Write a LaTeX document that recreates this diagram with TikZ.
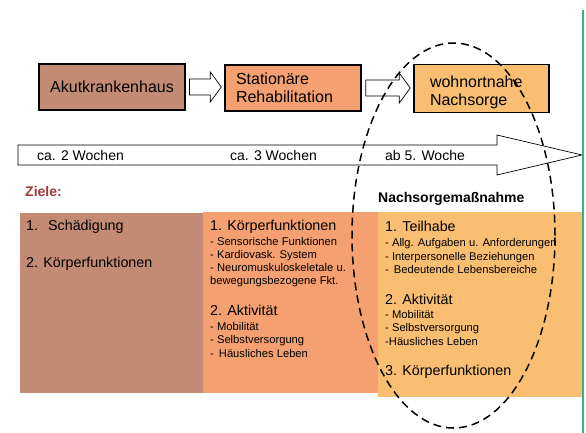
\documentclass[tikz,border=0pt]{standalone}
\usepackage{fontspec}
\setmainfont{Liberation Sans}
\usetikzlibrary{calc}
\definecolor{brownish}{HTML}{C48B74}
\definecolor{salmon}{HTML}{F5A070}
\definecolor{apricot}{HTML}{F9BE71}
\definecolor{zielered}{HTML}{A03A3A}
\definecolor{tealline}{HTML}{33B38A}

% block arrow between two stage boxes: #1 from, #2 to
\newcommand\stagearrow[2]{%
  \draw[blockarrow] let \p1=($(#1.east)+(4pt,0pt)$), \p2=($(#2.west)+(-3pt,0pt)$) in
    (\x1,\y1+8pt) -- (\x2-11pt,\y1+8pt) -- (\x2-11pt,\y1+15pt) -- (\x2,\y1)
    -- (\x2-11pt,\y1-15pt) -- (\x2-11pt,\y1-8pt) -- (\x1,\y1-8pt) -- cycle;}

\begin{document}
\begin{tikzpicture}[x=1pt,y=-1pt,
    stage/.style={draw=black,line width=1.4pt,minimum width=136pt,minimum height=46pt,inner xsep=11pt,font=\fontsize{16}{18}\selectfont},
    blockarrow/.style={draw=black,line width=0.7pt,fill=white},
    goalbox/.style={inner sep=0pt,anchor=north west},
    head/.style={anchor=base west,inner sep=0pt,font=\fontsize{14.3}{16}\selectfont},
    item/.style={anchor=base west,inner sep=0pt,font=\fontsize{11.2}{13}\selectfont},
    week/.style={anchor=base west,inner sep=0pt,font=\fontsize{14}{16}\selectfont},
    caption/.style={anchor=base west,inner sep=0pt,font=\bfseries\fontsize{14}{16}\selectfont}]
  \useasboundingbox (0,0) rectangle (586,433);

  % goals per phase
  \node[goalbox,fill=brownish,minimum width=183pt,minimum height=180pt] (akutziel) at (20,213) {};
  \node[goalbox,fill=salmon,minimum width=177pt,minimum height=181pt] (rehaziel) at (203,212) {};
  \node[goalbox,fill=apricot,minimum width=205pt,minimum height=185pt] (nachziel) at (378,212) {};

  \node[head] (schaed) at (26,230) {1.\hspace{10pt}Schädigung};
  \node[head] (koerper) at (26,267) {2. Körperfunktionen};

  \node[head] (rehakf) at (210,230) {1. Körperfunktionen};
  \foreach \yy/\txt [count=\i] in {245/- Sensorische Funktionen,258/- Kardiovask. System,
      271.5/- Neuromuskuloskeletale u.,284.5/bewegungsbezogene Fkt.}
    \node[item] (rehakf\i) at (210,\yy) {\txt};
  \node[head] (rehaakt) at (210,315) {2. Aktivität};
  \foreach \yy/\txt [count=\i] in {330/- Mobilität,343/- Selbstversorgung,357/-\hspace{5pt}Häusliches Leben}
    \node[item] (rehaakt\i) at (210,\yy) {\txt};

  \node[head] (teilhabe) at (385,231) {1. Teilhabe};
  \foreach \yy/\txt [count=\i] in {246/- Allg. Aufgaben u. Anforderungen,260/- Interpersonelle Beziehungen,
      273/-\hspace{5pt}Bedeutende Lebensbereiche}
    \node[item] (teilhabe\i) at (385,\yy) {\txt};
  \node[head] (nachakt) at (385,304) {2. Aktivität};
  \foreach \yy/\txt [count=\i] in {318/- Mobilität,331/- Selbstversorgung,345/-Häusliches Leben}
    \node[item] (nachakt\i) at (385,\yy) {\txt};
  \node[head] (nachkf) at (385,375) {3. Körperfunktionen};

  \node[caption,text=zielered] (ziele) at (25,196) {Ziele:};
  \node[caption] (massnahme) at (378,202) {Nachsorgemaßnahme};

  % stages
  \node[stage,fill=brownish] (akut) at (112,87) {Akutkrankenhaus};
  \node[stage,fill=salmon,text width=114pt,align=left] (reha) at (293,88) {Stationäre\\Rehabilitation};
  \node[stage,fill=apricot,minimum width=135pt,minimum height=45pt,inner xsep=16pt,text width=103pt,align=left] (nachsorge) at (481.5,88.5) {\rule{0pt}{20pt}wohnortnahe\\Nachsorge};
  \stagearrow{akut}{reha}
  \stagearrow{reha}{nachsorge}

  % time line
  \draw[blockarrow] (18,145) -- (497,145) -- (497,135) -- (582,155) -- (497,175) -- (497,165) -- (18,165) -- cycle;
  \node[week] (w1) at (37,160.5) {ca. 2 Wochen};
  \node[week] (w2) at (230,160.5) {ca. 3 Wochen};
  \node[week] (w3) at (385,160.5) {ab 5. Woche};

  \draw[line width=1.5pt,dash pattern=on 8pt off 5pt] (453.5,235.5) ellipse [x radius=101.5pt,y radius=192.5pt];
  \draw[tealline,line width=2pt] (583,10) -- (583,433);
\end{tikzpicture}
\end{document}
